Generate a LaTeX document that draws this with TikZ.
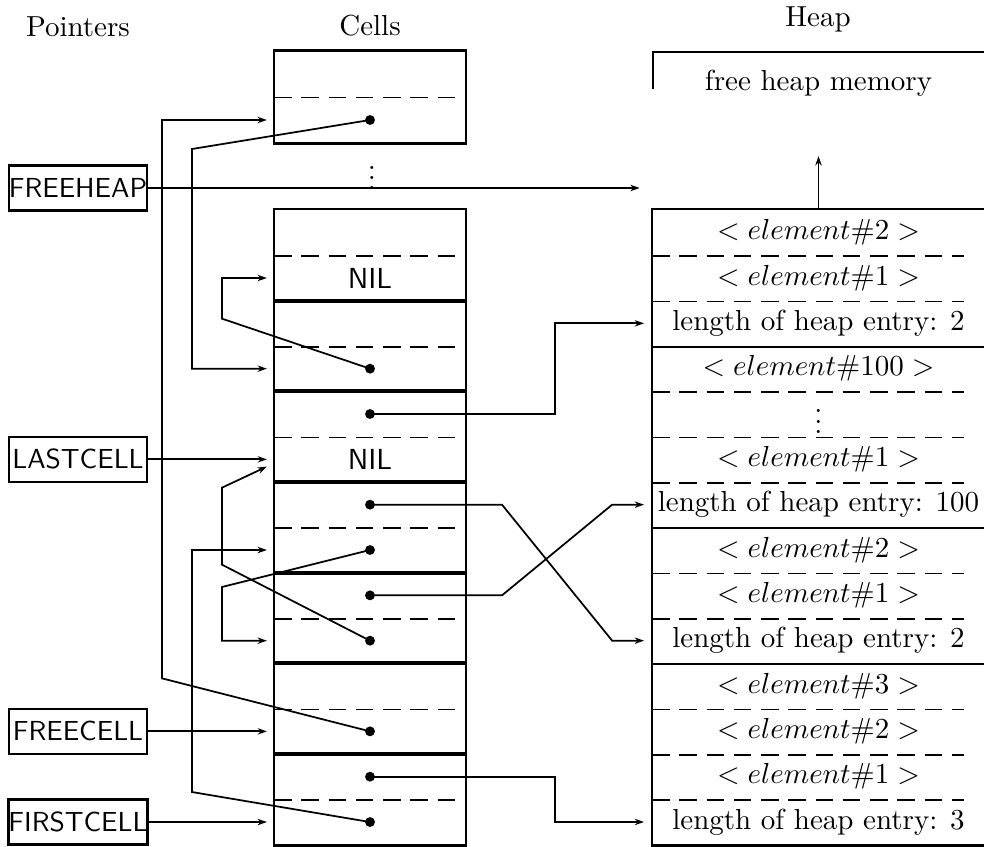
\documentclass[tikz,border=0pt]{standalone}
\usetikzlibrary{arrows.meta, calc}
\newcommand{\pxl}{0.345pt}
\newcommand{\vdotsx}{\vbox{\baselineskip3.6pt\lineskiplimit0pt\hbox{.}\hbox{.}\hbox{.}}}

\begin{document}
\begin{tikzpicture}[
    x=\pxl, y=-\pxl,
    >={Stealth[length=3.2pt,width=2.2pt]},
    line width=0.6pt,
    ptr/.style={draw, line width=0.8pt, font=\sffamily\fontsize{9.5pt}{11pt}\selectfont,
                minimum width=138*\pxl, minimum height=45*\pxl, inner sep=0pt},
    half/.style={minimum width=190*\pxl, minimum height=45.33*\pxl,
                 inner sep=0pt, font=\sffamily},
    row/.style={minimum width=331*\pxl, minimum height=45.33*\pxl, inner sep=0pt},
    sep/.style={dash pattern=on 6pt off 3.4pt},
    frame/.style={line width=0.8pt},
    arr/.style={->},
]
\useasboundingbox (0,0) rectangle (984,846);

% ================================================================
%  Headings
% ================================================================
\node (hptr)  at (78,27)  {Pointers};
\node (hcell) at (370,26) {Cells};
\node (hheap) at (818,19) {Heap};

% ================================================================
%  Cells
% ================================================================
\node[half] (c0u) at (370,74) {};
\node[half] (c0l) at (370,120) {};
\draw[frame] (c0u.north west) rectangle (c0l.south east);
\draw[sep] (c0u.south west) -- (c0u.south east);

\node[inner sep=0pt] (cdots) at (372,178) {\vdotsx};

\foreach \i/\lo in {1/NIL,2/,3/NIL,4/,5/,6/,7/} {
  \pgfmathsetmacro{\ytop}{210+(\i-1)*90.67}
  \node[half] (c\i u) at (370,\ytop+22.67) {};
  \node[half] (c\i l) at (370,\ytop+68) {\lo};
  \draw[frame] (c\i u.north west) rectangle (c\i l.south east);
  \draw[sep] (c\i u.south west) -- (c\i u.south east);
}

\foreach \d in {c0l,c2l,c3u,c4u,c4l,c5u,c5l,c6l,c7u,c7l}
  \fill (\d.center) circle (1.7pt);

% ================================================================
%  Heap
% ================================================================
\node (free) at (818.5,83) {free heap memory};
\draw[frame] (984,52) -- (653,52) -- (653,89);

\foreach \k/\txt in {1/{$<element\#2>$}, 2/{$<element\#1>$},
    3/{length of heap entry: 2}, 4/{$<element\#100>$}, 5/{},
    6/{$<element\#1>$}, 7/{length of heap entry: 100},
    8/{$<element\#2>$}, 9/{$<element\#1>$}, 10/{length of heap entry: 2},
    11/{$<element\#3>$}, 12/{$<element\#2>$}, 13/{$<element\#1>$},
    14/{length of heap entry: 3}}
  \node[row] (h\k) at (818.5,{210+(\k-1)*45.33+22.67}) {\txt};

\node[inner sep=0pt] (hdots) at ([yshift=-2.6pt]h5.center) {\vdotsx};

\draw[frame] (h1.north east) -- (h1.north west) -- (h14.south west) -- (h14.south east);
\foreach \k in {3,7,10}
  \draw[frame] (h\k.south west) -- (h\k.south east);
\foreach \k in {1,2,4,5,6,8,9,11,12,13}
  \draw[sep] (h\k.south west) -- ([xshift=-21*\pxl]h\k.south east);

\coordinate (heapfree) at (h1.west |- 0,188);
\draw[arr] (h1.north) -- ++(0,-53);

% ================================================================
%  Pointers
% ================================================================
\node[ptr] (fh)  at (78,188)    {FREEHEAP};
\node[ptr] (lc)  at (fh |- c3l) {LASTCELL};
\node[ptr] (fc)  at (fh |- c6l) {FREECELL};
\node[ptr] (fst) at (fh |- c7l) {FIRSTCELL};

\draw[arr] (fh)  -- ([xshift=-4.3pt]heapfree);
\draw[arr] (lc)  -- ([xshift=-2.5pt]c3l.west);
\draw[arr] (fc)  -- ([xshift=-2.5pt]c6l.west);
\draw[arr] (fst) -- ([xshift=-2.5pt]c7l.west);

% cell -> cell links
\draw[arr] (c6l.center) -- ++(-208,-53) |- ([xshift=-2.5pt]c0l.west);
\draw[arr] (c0l.center) -- ++(-178,29) |- ([xshift=-2.5pt]c2l.west);
\draw[arr] (c2l.center) -- ++(-148,-50) |- ([xshift=-2.5pt]c1l.west);
\draw[arr] (c4l.center) -- ++(-148,37) |- ([xshift=-2.5pt]c5l.west);
\draw[arr] (c5l.center) -- ++(-148,-76) -- ++(0,-77)
    -- ([xshift=-2.5pt,yshift=-2.5pt]c3l.west);
\draw[arr] (c7l.center) -- ++(-178,-30) |- ([xshift=-2.5pt]c4l.west);

% cell -> heap links
\draw[arr] (c3u.center) -- ++(185,0) |- ([xshift=-2.8pt]h3.west);
\draw[arr] (c4u.center) -- ++(132,0) -- ($(h10.west)+(-40,0)$)
    -- ([xshift=-2.8pt]h10.west);
\draw[arr] (c5u.center) -- ++(132,0) -- ($(h7.west)+(-40,0)$)
    -- ([xshift=-2.8pt]h7.west);
\draw[arr] (c7u.center) -- ++(185,0) |- ([xshift=-2.8pt]h14.west);

\end{tikzpicture}
\end{document}
